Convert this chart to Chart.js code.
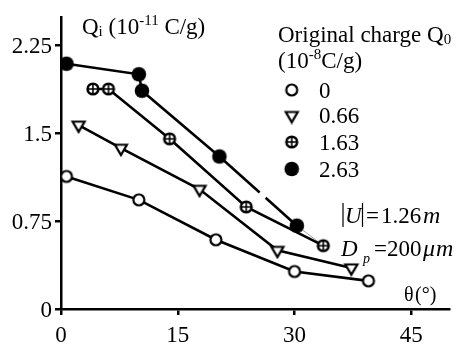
<!DOCTYPE html>
<html><head><meta charset="utf-8">
<script src="https://cdn.jsdelivr.net/npm/chart.js@4/dist/chart.umd.min.js"></script>
<style>html,body{margin:0;padding:0;background:#fff}canvas{display:block}</style>
</head><body>
<canvas id="c" width="459" height="345"></canvas>
<script>
// ---- data ----
const seriesLabels = ['0', '0.66', '1.63', '2.63'];
const q0_x   = [0.7, 10.0, 19.9, 30.0, 39.5];
const q0_y   = [1.13, 0.93, 0.59, 0.32, 0.24];
const q066_x = [2.26, 7.7, 17.8, 27.8, 37.3];
const q066_y = [1.567, 1.37, 1.02, 0.50, 0.35];
const q163_x = [4.1, 6.1, 13.95, 23.8, 33.7];
const q163_y = [1.875, 1.875, 1.45, 0.87, 0.54];
const q263_x = [0.7, 10.0, 10.4, 20.35, 30.3];
const q263_y = [2.09, 2.0, 1.86, 1.30, 0.71];
const xTicks = [0, 15, 30, 45];
const yTicks = [0, 0.75, 1.5, 2.25];
const yTickLabels = ['0', '0.75', '1.5', '2.25'];

const FONT = "'Liberation Serif','Times New Roman',serif";

function pts(xs, ys) { return xs.map((x, i) => ({x: x, y: ys[i]})); }

function makeMarker(kind) {
  const s = 18, c = s / 2;
  const cv = document.createElement('canvas');
  cv.width = s; cv.height = s;
  const g = cv.getContext('2d');
  g.lineWidth = 2.2; g.strokeStyle = '#000'; g.fillStyle = '#fff';
  if (kind === 'open') {
    g.beginPath(); g.arc(c, c, 5.5, 0, Math.PI * 2); g.fill(); g.stroke();
  } else if (kind === 'tri') {
    g.beginPath(); g.moveTo(c - 6, c - 3.5); g.lineTo(c + 6, c - 3.5); g.lineTo(c, c + 6.8); g.closePath();
    g.fill(); g.stroke();
  } else if (kind === 'plus') {
    g.fillStyle = '#000'; g.beginPath(); g.arc(c, c, 6.6, 0, Math.PI * 2); g.fill();
    g.fillStyle = '#fff'; g.beginPath(); g.arc(c, c, 4.0, 0, Math.PI * 2); g.fill();
    g.lineWidth = 1.6; g.beginPath(); g.moveTo(c - 4, c); g.lineTo(c + 4, c); g.moveTo(c, c - 4); g.lineTo(c, c + 4); g.stroke();
  } else {
    g.fillStyle = '#000'; g.beginPath(); g.arc(c, c, 7.3, 0, Math.PI * 2); g.fill();
  }
  return cv;
}
const markers = [makeMarker('open'), makeMarker('tri'), makeMarker('plus'), makeMarker('filled')];

function ds(label, xs, ys, m, extra) {
  return Object.assign({ label: label, data: pts(xs, ys), showLine: true, borderColor: '#000', borderWidth: 2.6,
           pointStyle: m, pointRadius: 7, backgroundColor: '#000', tension: 0 }, extra || {});
}

function rich(ctx, x, y, parts) {
  for (const p of parts) {
    ctx.font = (p.it ? 'italic ' : '') + p.size + 'px ' + FONT;
    ctx.fillText(p.t, x + (p.dx || 0), y + (p.dy || 0));
    x += ctx.measureText(p.t).width + (p.dx || 0);
  }
}

const textPlugin = {
  id: 'texts',
  afterDraw(chart) {
    const ctx = chart.ctx;
    ctx.save();
    ctx.fillStyle = '#000'; ctx.textBaseline = 'alphabetic'; ctx.textAlign = 'left';
    // y axis title
    rich(ctx, 82, 34, [{t: 'Q', size: 23}, {t: 'i', size: 15, dy: 2}, {t: ' (10', size: 23},
                       {t: '-11', size: 15, dy: -9}, {t: ' C/g)', size: 23}]);
    // legend title
    rich(ctx, 278, 42, [{t: 'Original charge Q', size: 23}, {t: '0', size: 15, dy: 2}]);
    rich(ctx, 278, 68, [{t: '(10', size: 23}, {t: '-8', size: 15, dy: -9}, {t: 'C/g)', size: 23}]);
    // legend rows
    const rowY = [90, 115.5, 142, 169];
    seriesLabels.forEach((lab, i) => {
      const m = chart.data.datasets[i].pointStyle;
      ctx.drawImage(m, 291.7 - m.width / 2, rowY[i] - m.height / 2);
      ctx.font = '23px ' + FONT;
      ctx.fillText(lab, 319, rowY[i] + 7.5);
    });
    // annotation |U| = 1.26m
    ctx.strokeStyle = '#000'; ctx.lineWidth = 1.2;
    ctx.beginPath(); ctx.moveTo(343, 203); ctx.lineTo(343, 227); ctx.moveTo(362.5, 203); ctx.lineTo(362.5, 227); ctx.stroke();
    ctx.font = 'italic 23px ' + FONT; ctx.fillText('U', 345, 223);
    ctx.font = '23px ' + FONT; ctx.fillText('=', 366, 223); ctx.fillText('1.26', 381, 223);
    ctx.font = 'italic 24px ' + FONT; ctx.fillText('m', 423, 223);
    // D_p = 200 μm
    ctx.font = 'italic 23px ' + FONT; ctx.fillText('D', 341, 256);
    ctx.font = 'italic 14px ' + FONT; ctx.fillText('p', 363, 263);
    ctx.font = '23px ' + FONT; ctx.fillText('=', 374, 256); ctx.fillText('200', 387, 256);
    ctx.font = 'italic 24px ' + FONT; ctx.fillText('\u03bc', 423, 256); ctx.fillText('m', 436, 256);
    // x axis title
    ctx.font = '20px ' + FONT; ctx.fillText('\u03b8', 404, 301); ctx.fillText('(\u00b0)', 415, 301);
    ctx.restore();
  }
};

const n = q263_x.length;
new Chart(document.getElementById('c'), {
  type: 'scatter',
  data: { datasets: [
    ds(seriesLabels[0], q0_x, q0_y, markers[0]),
    ds(seriesLabels[1], q066_x, q066_y, markers[1]),
    ds(seriesLabels[2], q163_x, q163_y, markers[2]),
    ds(seriesLabels[3], q263_x, q263_y, markers[3], {
      segment: { borderDash: c => c.p0DataIndex === 3 ? [54, 8, 200, 0] : undefined }
    }),
    // thin connector between last points of the two top series
    ds('', [q263_x[n - 1], q163_x[n - 1]], [q263_y[n - 1], q163_y[n - 1]], 'circle',
       { borderColor: '#888', borderWidth: 0.8, pointRadius: 0, order: 10 })
  ]},
  options: {
    responsive: false, animation: false, devicePixelRatio: 1,
    layout: { padding: { top: 15, right: 0, left: 0, bottom: 0 } },
    plugins: { legend: { display: false }, tooltip: { enabled: false } },
    scales: {
      x: {
        type: 'linear', min: 0, max: 49.9,
        afterBuildTicks: s => { s.ticks = xTicks.map(v => ({value: v})); },
        afterFit: s => { s.height = 36; },
        border: { color: '#000', width: 2.5 },
        grid: { drawOnChartArea: false, drawTicks: true, tickLength: 6, color: '#000', lineWidth: 2.5 },
        ticks: { color: '#000', font: { family: FONT, size: 23 }, padding: 7, maxRotation: 0,
                 callback: v => String(v) }
      },
      y: {
        type: 'linear', min: 0, max: 2.49,
        afterBuildTicks: s => { s.ticks = yTicks.map(v => ({value: v})); },
        afterFit: s => { s.width = 61; },
        border: { color: '#000', width: 2.5 },
        grid: { drawOnChartArea: false, drawTicks: true, tickLength: 6, color: '#000', lineWidth: 2.5 },
        ticks: { color: '#000', font: { family: FONT, size: 23 }, padding: 3, labelOffset: 2,
                 callback: v => yTickLabels[yTicks.indexOf(v)] }
      }
    }
  },
  plugins: [textPlugin]
});
</script>
</body></html>
